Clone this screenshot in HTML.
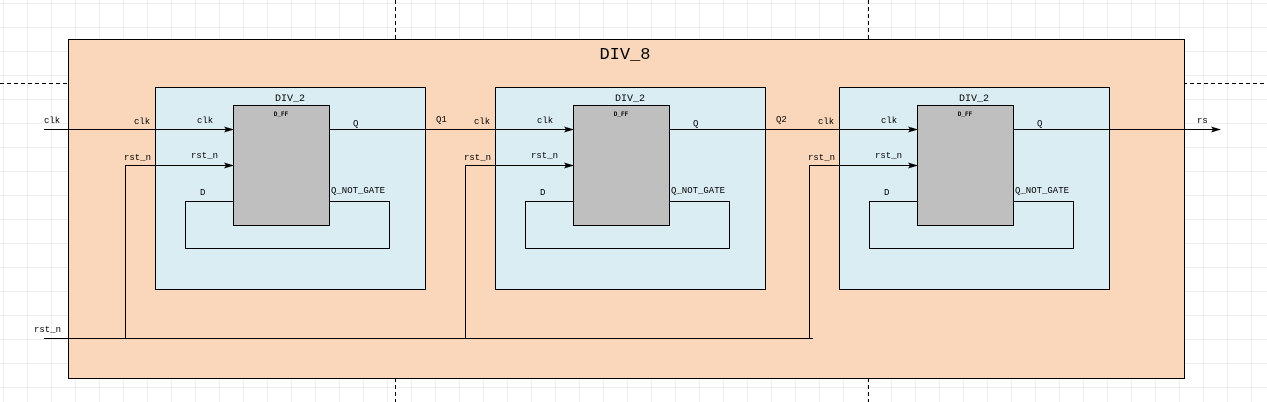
<!DOCTYPE html>
<html><head><meta charset="utf-8"><style>
html,body{margin:0;padding:0;background:#fff;}
svg{display:block;}
text{font-family:"Liberation Mono",monospace;fill:#000;}
</style></head><body>
<svg width="1267" height="402" viewBox="0 0 1267 402" xmlns="http://www.w3.org/2000/svg">
<defs>
<pattern id="g" x="3" y="3" width="24" height="24" patternUnits="userSpaceOnUse">
<path d="M0 0H24M0 0V24" stroke="#dcdcdc" stroke-width="1" fill="none"/>
</pattern>
<marker id="a" markerWidth="10" markerHeight="8" refX="9" refY="4" orient="auto" markerUnits="userSpaceOnUse">
<path d="M0,1 L10,4 L0,7 L2,4 Z" fill="#000"/>
</marker>
</defs>
<rect width="1267" height="402" fill="url(#g)"/>
<g stroke="#000" stroke-dasharray="4,3" stroke-width="1">
<line x1="395.5" y1="0" x2="395.5" y2="402"/>
<line x1="868.5" y1="0" x2="868.5" y2="402"/>
<line x1="0" y1="83.5" x2="1267" y2="83.5"/>
</g>
<rect x="68.5" y="39.5" width="1116" height="339" fill="#fad7bb" stroke="#000"/>
<text x="625" y="59" font-size="17" text-anchor="middle">DIV_8</text>

<g id="blk">
<rect x="155.5" y="87.5" width="270" height="202" fill="#daedf3" stroke="#000"/>
<text x="290" y="101" font-size="10" text-anchor="middle">DIV_2</text>
<rect x="233.5" y="105.5" width="96" height="120" fill="#bfbfbf" stroke="#000"/>
<text x="281" y="116" font-size="6" text-anchor="middle" font-weight="bold">D_FF</text>
<path d="M233.5 201.5H185.5V248.5H389.5V201.5H329.5" fill="none" stroke="#000"/>
<text x="200" y="195" font-size="9">D</text>
<text x="331" y="193" font-size="9">Q_NOT_GATE</text>
<text x="353" y="126" font-size="9">Q</text>
<text x="197" y="123" font-size="9">clk</text>
<text x="191" y="158" font-size="9">rst_n</text>
<text x="134" y="124" font-size="9">clk</text>
<text x="124" y="160" font-size="9">rst_n</text>
<line x1="155" y1="129.5" x2="233" y2="129.5" stroke="#000" marker-end="url(#a)"/>
<path d="M125.5 338.5V165.5H233" fill="none" stroke="#000" marker-end="url(#a)"/>
</g>
<use href="#blk" transform="translate(340,0)"/>
<use href="#blk" transform="translate(684,0)"/>

<line x1="44" y1="129.5" x2="155" y2="129.5" stroke="#000"/>
<line x1="329" y1="129.5" x2="495" y2="129.5" stroke="#000"/>
<line x1="669" y1="129.5" x2="839" y2="129.5" stroke="#000"/>
<line x1="1013" y1="129.5" x2="1220" y2="129.5" stroke="#000" marker-end="url(#a)"/>
<line x1="44" y1="338.5" x2="813" y2="338.5" stroke="#000"/>
<path d="M809.5 338.5V165.5H813" fill="none" stroke="#000"/>
<text x="44" y="123" font-size="9">clk</text>
<text x="436" y="122" font-size="9">Q1</text>
<text x="776" y="122" font-size="9">Q2</text>
<text x="1197" y="123" font-size="9">rs</text>
<text x="34" y="332" font-size="9">rst_n</text>
</svg>
</body></html>
